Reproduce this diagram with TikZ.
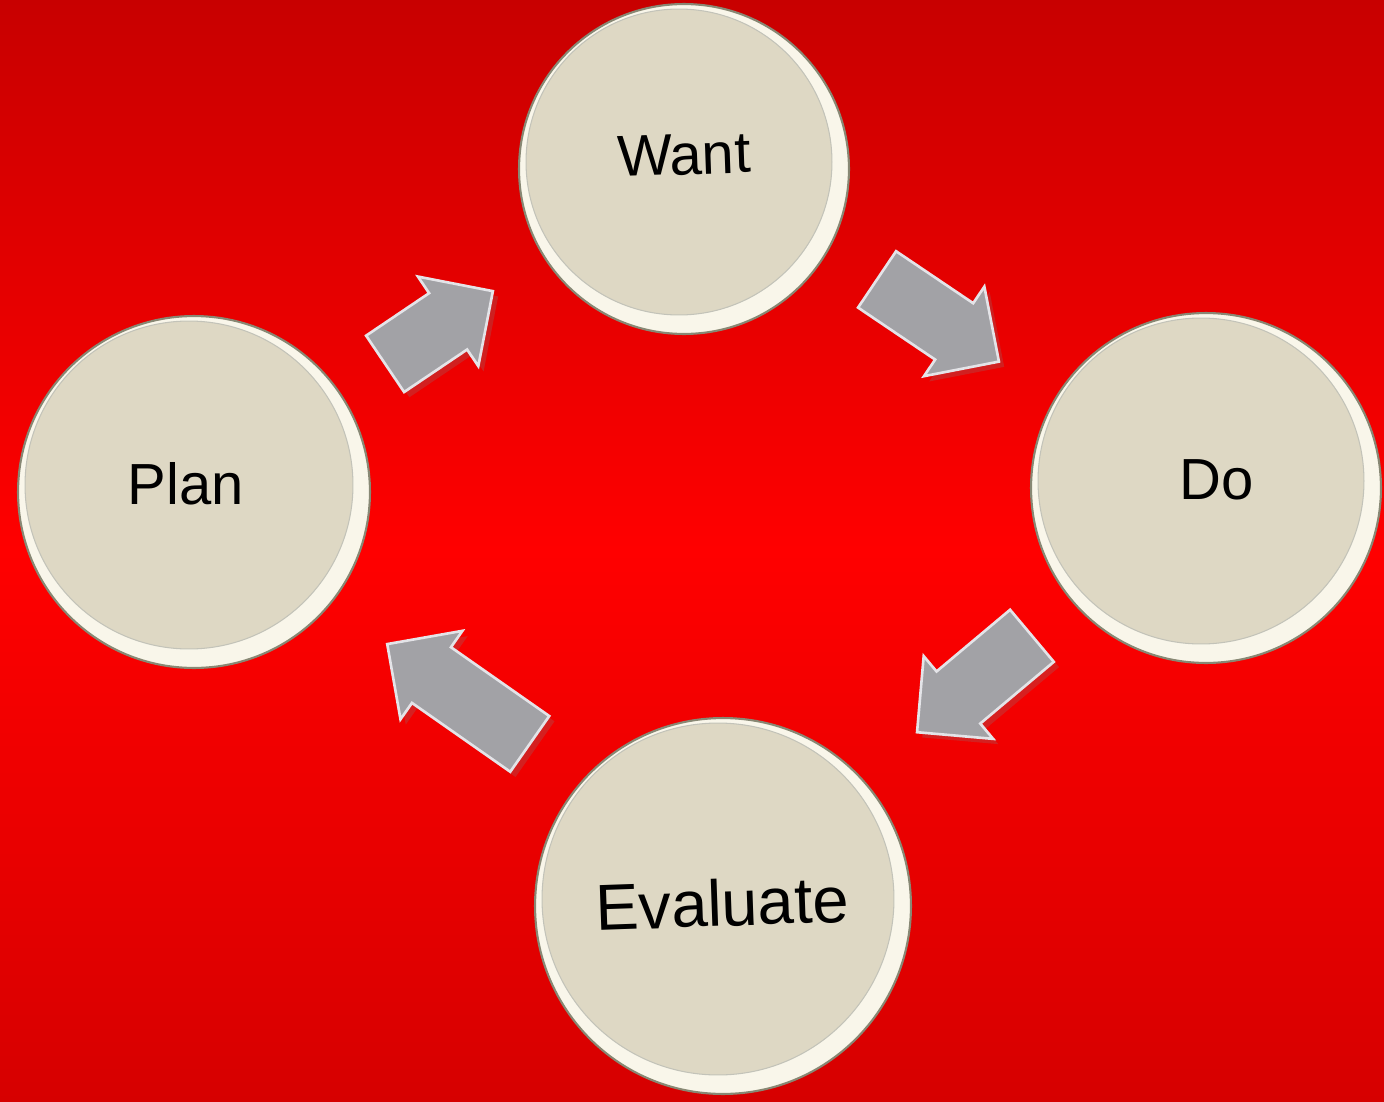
\documentclass[tikz,border=0pt]{standalone}
\usepackage{fontspec}
\setmainfont{Liberation Sans}
\usetikzlibrary{calc,shadows}

\definecolor{bgtop}{RGB}{200,0,0}
\definecolor{bgmid}{RGB}{255,0,0}
\definecolor{bgbot}{RGB}{214,0,0}
\definecolor{discface}{RGB}{222,216,196}
\definecolor{discrim}{RGB}{249,246,234}
\definecolor{discline}{RGB}{136,136,116}
\definecolor{arrowgray}{RGB}{162,162,166}
\definecolor{arrowedge}{RGB}{228,228,232}

\tikzset{
  disc/.style={circle, fill=discrim, draw=discline, line width=1.2pt,
    minimum size=#1, inner sep=0pt},
  face/.style={circle, fill=discface, draw=discline!50, line width=0.6pt,
    minimum size=#1, inner sep=0pt},
  lbl/.style={font=\fontsize{33}{40}\selectfont, text=black},
  arrowbody/.style={fill=arrowgray, draw=arrowedge, line width=1.5pt,
    line join=miter,
    drop shadow={opacity=0.25, shadow xshift=3pt, shadow yshift=-3pt}}
}

% block arrow half way between two nodes: {from}{to}{angle}{length in px}{offset}
\newcommand{\blockarrow}[5]{%
  \begin{scope}[shift={($(#1)!0.5!(#2)+(#5)$)}, rotate=#3]
    \draw[arrowbody] (-#4/2,-34) -- (#4/2-54,-34) -- (#4/2-54,-54)
      -- (#4/2,0) -- (#4/2-54,54) -- (#4/2-54,34) -- (-#4/2,34) -- cycle;
  \end{scope}}

\begin{document}
\begin{tikzpicture}[x=0.02cm, y=-0.02cm]
  \useasboundingbox (0,0) rectangle (1384,1102);
  \clip (0,0) rectangle (1384,1102);
  \shade[top color=bgtop, bottom color=bgbot, middle color=bgmid]
    (0,0) rectangle (1384,1102);

  % discs
  \node[disc=6.6cm]  (want) at (684,169) {};
  \node[disc=7.04cm] (plan) at (194,492) {};
  \node[disc=7.0cm]  (do)   at (1206,488) {};
  \node[disc=7.52cm] (eval) at (723,906) {};

  \node[face=6.12cm] (want-face) at (679,162) {};
  \node[face=6.56cm] (plan-face) at (189,485) {};
  \node[face=6.52cm] (do-face)   at (1201,481) {};
  \node[face=7.04cm] (eval-face) at (718,899) {};

  \node[lbl, rotate=2] (want-label) at (684,155) {Want};
  \node[lbl]           (plan-label) at (186,484) {Plan};
  \node[lbl]           (do-label)   at (1217,480) {Do};
  \node[lbl, font=\fontsize{37}{44}\selectfont, rotate=2]
                       (eval-label) at (722,903) {Evaluate};

  % arrows
  \blockarrow{plan}{want}{34}{130}{0,-3}
  \blockarrow{want}{do}{-34}{147}{-7,-8}
  \blockarrow{do}{eval}{220}{150}{10,-13}
  \blockarrow{eval}{plan}{145}{174}{0,-5}
\end{tikzpicture}
\end{document}
